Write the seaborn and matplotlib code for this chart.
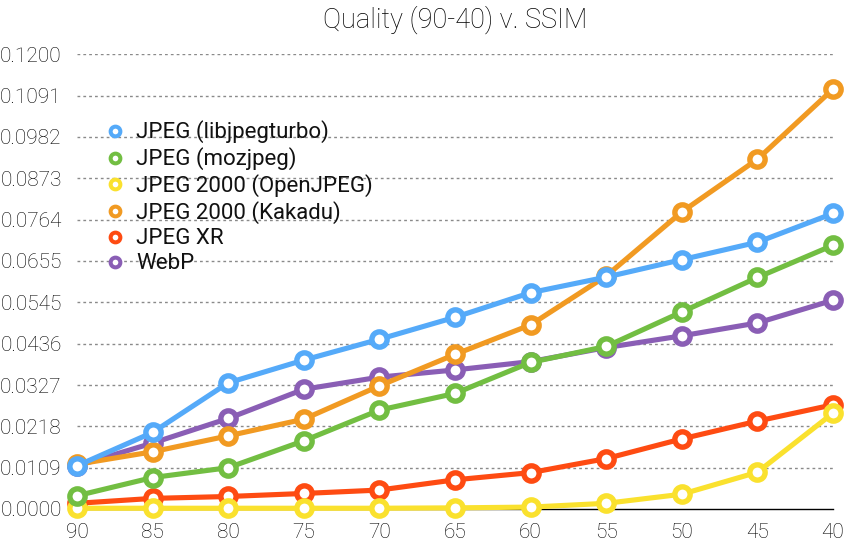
import matplotlib
matplotlib.use("Agg")
import matplotlib.pyplot as plt
from matplotlib.lines import Line2D
import seaborn as sns
import pandas as pd

quality = ["90", "85", "80", "75", "70", "65", "60", "55", "50", "45", "40"]
libjpegturbo = [0.0114, 0.0202, 0.0333, 0.0393, 0.0448, 0.0506, 0.0571, 0.0612, 0.0658, 0.0704, 0.0780]
mozjpeg = [0.0035, 0.0083, 0.0109, 0.0180, 0.0261, 0.0305, 0.0387, 0.0429, 0.0520, 0.0611, 0.0696]
openjpeg = [0.0002, 0.0002, 0.0002, 0.0002, 0.0002, 0.0003, 0.0005, 0.0015, 0.0039, 0.0097, 0.0253]
kakadu = [0.0118, 0.0151, 0.0193, 0.0237, 0.0325, 0.0408, 0.0486, 0.0615, 0.0784, 0.0923, 0.1108]
jpegxr = [0.0015, 0.0028, 0.0033, 0.0041, 0.0050, 0.0077, 0.0096, 0.0133, 0.0185, 0.0232, 0.0275]
webp = [0.0114, 0.0174, 0.0239, 0.0316, 0.0348, 0.0367, 0.0389, 0.0426, 0.0457, 0.0491, 0.0551]

series_names = ["JPEG (libjpegturbo)", "JPEG (mozjpeg)", "JPEG 2000 (OpenJPEG)",
                "JPEG 2000 (Kakadu)", "JPEG XR", "WebP"]
series_values = [libjpegturbo, mozjpeg, openjpeg, kakadu, jpegxr, webp]
colors = ["#55AAF9", "#72BE42", "#FAE12E", "#F19A22", "#FE4B12", "#8A5EB5"]
yticks = [0.0000, 0.0109, 0.0218, 0.0327, 0.0436, 0.0545, 0.0655, 0.0764, 0.0873, 0.0982, 0.1091, 0.1200]

rows = []
for name, vals in zip(series_names, series_values):
    for q, v in zip(quality, vals):
        rows.append({"Quality": q, "SSIM": v, "Codec": name})
df = pd.DataFrame(rows)

sns.set_theme(style="white")
FONT = ["Roboto", "DejaVu Sans"]
plt.rcParams["font.family"] = FONT
plt.rcParams["font.weight"] = "light"

fig = plt.figure(figsize=(8.47, 5.42), dpi=100)
ax = fig.add_axes([77 / 847, 1 - 509 / 542, (833 - 77) / 847, (509 - 54.3) / 542])

# draw in reverse legend order so blue ends on top
for i in reversed(range(len(series_names))):
    name = series_names[i]
    sub = df[df["Codec"] == name]
    sns.lineplot(data=sub, x="Quality", y="SSIM", ax=ax, color=colors[i],
                 linewidth=3.7, marker="o", markersize=11, markeredgewidth=3.9,
                 markerfacecolor="white", markeredgecolor=colors[i],
                 clip_on=False, legend=False, zorder=3 + (len(series_names) - i))

ax.set_xlim(0, len(quality) - 1)
ax.set_ylim(0, 0.12)
ax.set_yticks(yticks)
ax.set_yticklabels([f"{t:.4f}" for t in yticks])
ax.set_xticks(range(len(quality)))
ax.set_xticklabels(quality)
ax.set_xlabel("")
ax.set_ylabel("")

for t in yticks[1:]:
    ax.axhline(t, color="#8a8a8a", linewidth=1.0, linestyle=(0, (2, 2.2)), zorder=1)

for s in ["left", "right", "top"]:
    ax.spines[s].set_visible(False)
ax.spines["bottom"].set_color("black")
ax.spines["bottom"].set_linewidth(1.0)
ax.spines["bottom"].set_zorder(2)
ax.tick_params(axis="both", length=0, labelsize=15, colors="#000000")
ax.tick_params(axis="y", pad=11)
ax.tick_params(axis="x", pad=10)
for lab in ax.get_xticklabels() + ax.get_yticklabels():
    lab.set_fontweight("light")

ax.set_title("Quality (90-40) v. SSIM", fontsize=19.5, fontweight="light", pad=19, color="#000000")

handles = [Line2D([], [], linestyle="none", marker="o", markersize=7, markeredgewidth=2.9,
                  markerfacecolor="white", markeredgecolor=c) for c in colors]
leg = ax.legend(handles, series_names, loc="upper left",
                bbox_to_anchor=(0.022, 0.879), frameon=False,
                prop={"family": FONT, "size": 16, "weight": "normal"},
                handlelength=0.9, handletextpad=0.5, labelspacing=0.18, borderpad=0)
for t in leg.get_texts():
    t.set_color("#111111")

fig.savefig("out.png", dpi=100)
